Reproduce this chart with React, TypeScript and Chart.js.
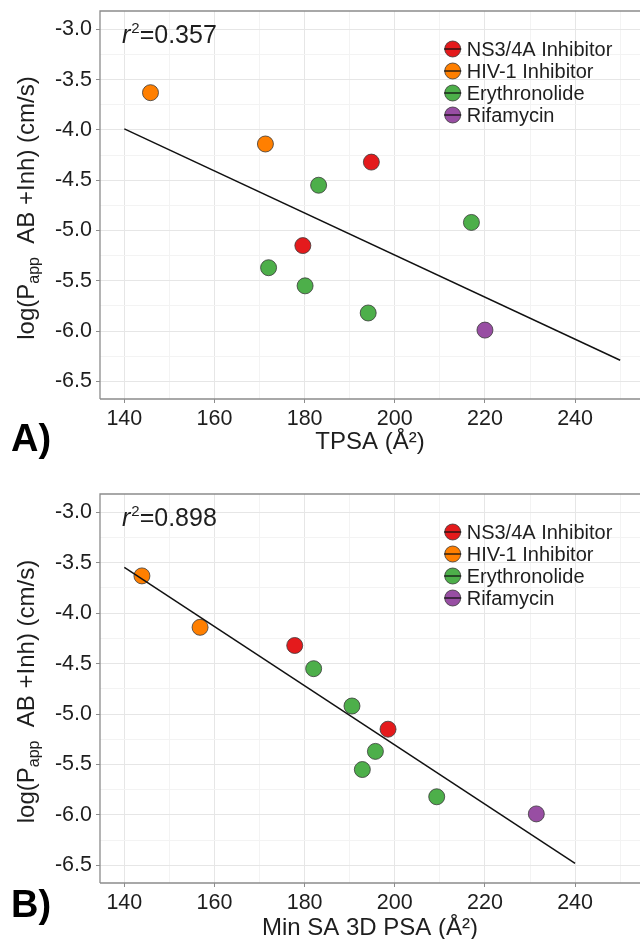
import React, { useEffect, useRef } from "react";
import { Chart, registerables } from "chart.js";
Chart.register(...registerables);

const FONT = '"Liberation Sans", Arial, Helvetica, sans-serif';

// ---- groups ----
const groupNames = ["NS3/4A Inhibitor", "HIV-1 Inhibitor", "Erythronolide", "Rifamycin"];
const groupColors = ["#e41a1c", "#ff7f00", "#4daf4a", "#984ea3"];

// ---- log(Papp AB +Inh) values per group (shared by both panels) ----
const logPappNS3 = [-4.32, -5.15];
const logPappHIV = [-3.63, -4.14];
const logPappEry = [-4.55, -4.92, -5.37, -5.55, -5.82];
const logPappRif = [-5.99];

// ---- Panel A: TPSA ----
const tpsaNS3 = [194.8, 179.6];
const tpsaHIV = [145.8, 171.3];
const tpsaEry = [183.1, 217.0, 172.0, 180.1, 194.1];
const tpsaRif = [220.0];
const fitA_x = [140, 250];
const fitA_y = [-3.99, -6.29];
const r2A = "0.357";

// ---- Panel B: Min SA 3D PSA ----
const minSaNS3 = [177.8, 198.5];
const minSaHIV = [143.9, 156.8];
const minSaEry = [182.0, 190.5, 195.7, 192.8, 209.3];
const minSaRif = [231.4];
const fitB_x = [140, 240];
const fitB_y = [-3.545, -6.48];
const r2B = "0.898";

// ---- axes ----
const xGridValues = [140, 150, 160, 170, 180, 190, 200, 210, 220, 230, 240, 250];
const xTickLabels = ["140", "", "160", "", "180", "", "200", "", "220", "", "240", ""];
const yGridValues = [-6.5, -6.25, -6.0, -5.75, -5.5, -5.25, -5.0, -4.75, -4.5, -4.25, -4.0, -3.75, -3.5, -3.25, -3.0];
const yTickLabels = ["-6.5", "", "-6.0", "", "-5.5", "", "-5.0", "", "-4.5", "", "-4.0", "", "-3.5", "", "-3.0"];
const xMin = 134.6, xMax = 254.4;
const yMin = -6.675, yMax = -2.818;

const FRAME = "#8c8c8c";
const GRID_MAJOR = "#e6e6e6";
const GRID_MINOR = "#f3f3f3";
const TEXT = "#1e1e1e";

function zip(xs: number[], ys: number[]) {
  return xs.map((x, i) => ({ x, y: ys[i] }));
}

type PanelProps = {
  top: number;
  height: number;
  padTop: number;
  xAxisHeight: number;
  xTitleBaseline: number;
  letterBaseline: number;
  letter: string;
  xTitle: string;
  r2: string;
  xs: number[][];
  fitX: number[];
  fitY: number[];
};

function Panel(p: PanelProps) {
  const ref = useRef<HTMLCanvasElement>(null);
  useEffect(() => {
    const ys = [logPappNS3, logPappHIV, logPappEry, logPappRif];
    const annot = {
      id: "annot",
      beforeDatasetsDraw(chart: any) {
        const ctx = chart.ctx;
        const a = chart.chartArea;
        ctx.save();
        ctx.strokeStyle = FRAME;
        ctx.lineWidth = 1.3;
        ctx.beginPath();
        ctx.moveTo(a.left, a.bottom);
        ctx.lineTo(a.left, a.top);
        ctx.lineTo(a.right + 5, a.top);
        ctx.moveTo(a.left, a.bottom);
        ctx.lineTo(a.right + 5, a.bottom);
        ctx.stroke();
        ctx.restore();
      },
      afterDraw(chart: any) {
        const ctx = chart.ctx;
        const a = chart.chartArea;
        ctx.save();
        ctx.fillStyle = TEXT;
        // r^2 label
        let x = a.left + 22;
        const by = a.top + 32;
        ctx.textBaseline = "alphabetic";
        ctx.textAlign = "left";
        ctx.font = `italic 25px ${FONT}`;
        ctx.fillText("r", x, by);
        x += ctx.measureText("r").width + 1;
        ctx.font = `15px ${FONT}`;
        ctx.fillText("2", x, by - 10);
        x += ctx.measureText("2").width;
        ctx.font = `25px ${FONT}`;
        ctx.fillText("=" + p.r2, x, by);

        // legend
        for (let i = 0; i < groupNames.length; i++) {
          const cx = a.left + 352.7;
          const cy = a.top + 38 + i * 22;
          ctx.beginPath();
          ctx.arc(cx, cy, 8, 0, Math.PI * 2);
          ctx.fillStyle = groupColors[i];
          ctx.fill();
          ctx.lineWidth = 0.8;
          ctx.strokeStyle = "#3a3a3a";
          ctx.stroke();
          ctx.beginPath();
          ctx.moveTo(cx - 8.5, cy);
          ctx.lineTo(cx + 8.5, cy);
          ctx.lineWidth = 1.3;
          ctx.strokeStyle = "#111";
          ctx.stroke();
          ctx.fillStyle = TEXT;
          ctx.font = `20px ${FONT}`;
          ctx.textBaseline = "middle";
          ctx.fillText(groupNames[i], cx + 14, cy + 1);
        }

        // x title
        ctx.textBaseline = "alphabetic";
        ctx.textAlign = "center";
        ctx.font = `24px ${FONT}`;
        ctx.fillText(p.xTitle, (a.left + a.right) / 2, p.xTitleBaseline);

        // y title with subscript
        const parts = [
          { t: "log(P", f: `24px ${FONT}`, dy: 0 },
          { t: "app", f: `16px ${FONT}`, dy: 5 },
          { t: "  AB +Inh) (cm/s)", f: `24px ${FONT}`, dy: 0 },
        ];
        let total = 0;
        for (const q of parts) {
          ctx.font = q.f;
          total += ctx.measureText(q.t).width;
        }
        ctx.translate(34, (a.top + a.bottom) / 2 + 3);
        ctx.rotate(-Math.PI / 2);
        ctx.textAlign = "left";
        let px = -total / 2;
        for (const q of parts) {
          ctx.font = q.f;
          ctx.fillText(q.t, px, q.dy);
          px += ctx.measureText(q.t).width;
        }
        ctx.setTransform(1, 0, 0, 1, 0, 0);

        // panel letter
        ctx.textAlign = "left";
        ctx.font = `bold 38px ${FONT}`;
        ctx.fillStyle = "#000";
        ctx.fillText(p.letter, 11, p.letterBaseline);
        ctx.restore();
      },
    };

    const datasets: any[] = groupNames.map((name, i) => ({
      type: "scatter",
      label: name,
      data: zip(p.xs[i], ys[i]),
      backgroundColor: groupColors[i],
      borderColor: "#3a3a3a",
      borderWidth: 0.8,
      pointRadius: 8,
      order: 1,
    }));
    datasets.push({
      type: "line",
      label: "fit",
      data: zip(p.fitX, p.fitY),
      borderColor: "#111",
      borderWidth: 1.5,
      pointRadius: 0,
      showLine: true,
      fill: false,
      order: 0,
    });

    const chart = new Chart(ref.current as HTMLCanvasElement, {
      type: "scatter",
      data: { datasets },
      plugins: [annot],
      options: {
        responsive: false,
        animation: false,
        devicePixelRatio: 1,
        events: [],
        layout: { autoPadding: false, padding: { top: p.padTop, left: 0, right: 0, bottom: 0 } },
        plugins: { legend: { display: false }, tooltip: { enabled: false } },
        scales: {
          x: {
            type: "linear",
            min: xMin,
            max: xMax,
            afterBuildTicks: (s: any) => {
              s.ticks = xGridValues.map((v) => ({ value: v }));
            },
            afterFit: (s: any) => {
              s.height = p.xAxisHeight;
              s.paddingLeft = 0;
              s.paddingRight = 0;
            },
            ticks: {
              autoSkip: false,
              maxRotation: 0,
              padding: 3,
              color: TEXT,
              font: { family: FONT, size: 21.5 },
              callback: (v: any) => {
                const i = xGridValues.indexOf(Number(v));
                return i >= 0 ? xTickLabels[i] : "";
              },
            },
            grid: {
              lineWidth: 1,
              tickLength: 4,
              color: (c: any) => (xTickLabels[xGridValues.indexOf(c.tick?.value)] ? GRID_MAJOR : GRID_MINOR),
              tickColor: (c: any) => (xTickLabels[xGridValues.indexOf(c.tick?.value)] ? FRAME : "rgba(0,0,0,0)"),
            },
            border: { display: false },
          },
          y: {
            type: "linear",
            min: yMin,
            max: yMax,
            afterBuildTicks: (s: any) => {
              s.ticks = yGridValues.map((v) => ({ value: v }));
            },
            afterFit: (s: any) => {
              s.width = 100;
              s.paddingTop = 0;
              s.paddingBottom = 0;
            },
            ticks: {
              autoSkip: false,
              padding: 4,
              color: TEXT,
              font: { family: FONT, size: 21.5 },
              callback: (v: any) => {
                const i = yGridValues.indexOf(Number(v));
                return i >= 0 ? yTickLabels[i] : "";
              },
            },
            grid: {
              lineWidth: 1,
              tickLength: 4,
              color: (c: any) => (yTickLabels[yGridValues.indexOf(c.tick?.value)] ? GRID_MAJOR : GRID_MINOR),
              tickColor: (c: any) => (yTickLabels[yGridValues.indexOf(c.tick?.value)] ? FRAME : "rgba(0,0,0,0)"),
            },
            border: { display: false },
          },
        },
      } as any,
    });
    return () => chart.destroy();
  }, []);

  return (
    <canvas
      ref={ref}
      width={640}
      height={p.height}
      style={{ position: "absolute", left: 0, top: p.top, width: 640, height: p.height }}
    />
  );
}

export default function App() {
  return (
    <div
      style={{
        position: "absolute",
        left: 0,
        top: 0,
        width: 640,
        height: 939,
        overflow: "hidden",
        background: "#fff",
      }}
    >
      <Panel
        top={0}
        height={460}
        padTop={11}
        xAxisHeight={61}
        xTitleBaseline={449}
        letterBaseline={451}
        letter="A)"
        xTitle="TPSA (Å²)"
        r2={r2A}
        xs={[tpsaNS3, tpsaHIV, tpsaEry, tpsaRif]}
        fitX={fitA_x}
        fitY={fitA_y}
      />
      <Panel
        top={460}
        height={479}
        padTop={34}
        xAxisHeight={56}
        xTitleBaseline={475}
        letterBaseline={457}
        letter="B)"
        xTitle="Min SA 3D PSA (Å²)"
        r2={r2B}
        xs={[minSaNS3, minSaHIV, minSaEry, minSaRif]}
        fitX={fitB_x}
        fitY={fitB_y}
      />
    </div>
  );
}
